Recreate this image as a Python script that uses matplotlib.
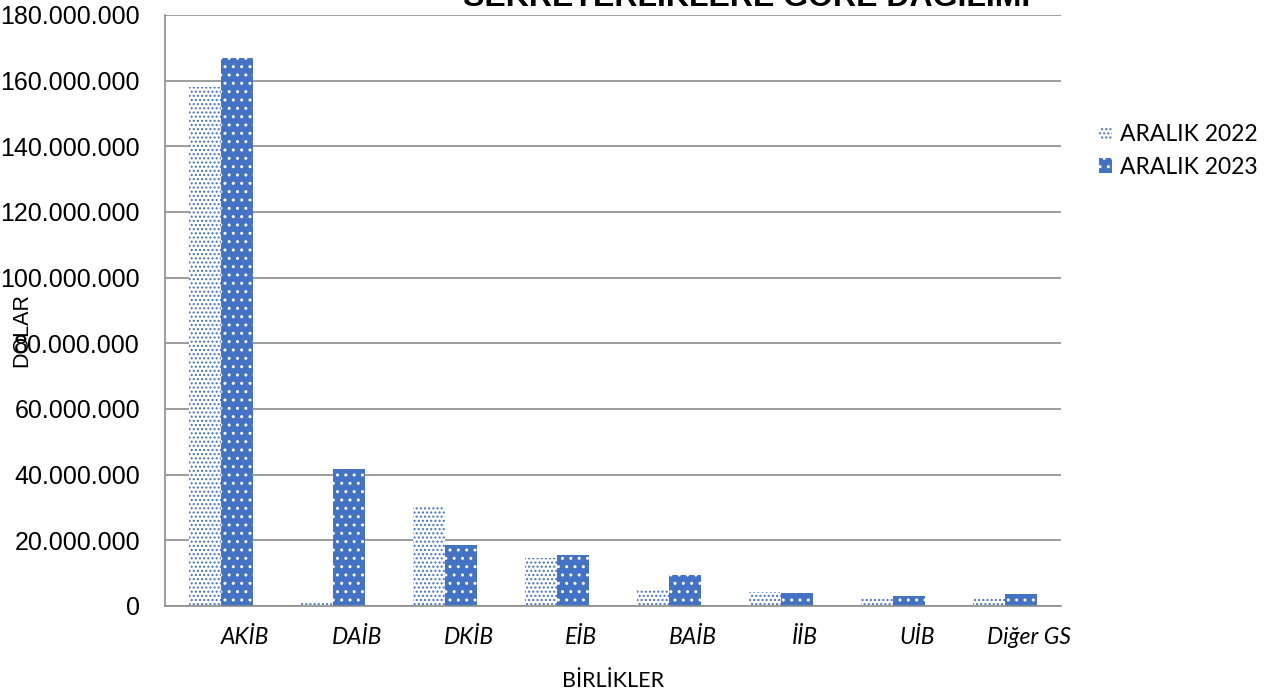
import numpy as np
import matplotlib.pyplot as plt
from matplotlib.ticker import FuncFormatter
import matplotlib.transforms as mtransforms

plt.rcParams['hatch.linewidth'] = 1.0

birlikler = ["AKİB", "DAİB", "DKİB", "EİB", "BAİB", "İİB", "UİB", "Diğer GS"]
aralik_2022 = [158.0e6, 1.5e6, 30.5e6, 14.6e6, 4.9e6, 4.3e6, 2.3e6, 2.3e6]
aralik_2023 = [167.0e6, 41.8e6, 18.6e6, 15.5e6, 9.4e6, 3.8e6, 3.0e6, 3.5e6]
seriler = ["ARALIK 2022", "ARALIK 2023"]

mavi = "#4472C4"

fig = plt.figure(figsize=(12.69, 6.97), dpi=100)
ax = fig.add_axes([0.130, 0.1306, 0.706, 0.848])

x = np.arange(len(birlikler))
w = 0.286
ax.bar(x - w / 2, aralik_2022, w, facecolor="white", edgecolor=mavi,
       hatch="....", linewidth=0, label=seriler[0])
ax.bar(x + w / 2, aralik_2023, w, facecolor=mavi, edgecolor="white",
       hatch="..", linewidth=0, label=seriler[1])

ax.set_xlim(-0.5, len(birlikler) - 0.5)
ax.set_ylim(0, 180e6)
ax.set_yticks(np.arange(0, 180e6 + 1, 20e6))
ax.yaxis.set_major_formatter(FuncFormatter(lambda v, p: f"{int(v):,}".replace(",", ".")))
ax.yaxis.grid(True, color="#8c8c8c", linewidth=1.2)
ax.set_axisbelow(True)
for s in ["top", "right"]:
    ax.spines[s].set_visible(False)
for s in ["left", "bottom"]:
    ax.spines[s].set_color("#8c8c8c")
    ax.spines[s].set_linewidth(1.2)
ax.tick_params(axis="y", length=0, labelsize=18, pad=18)
ax.tick_params(axis="x", length=0, pad=15)
for lbl in ax.get_yticklabels():
    lbl.set_family("Liberation Sans")

ax.set_xticks(x)
ax.set_xticklabels(birlikler, fontsize=16.5, family="Lato", style="italic")
offset = mtransforms.ScaledTranslation(0.24, 0, fig.dpi_scale_trans)
for lbl in ax.get_xticklabels():
    lbl.set_transform(lbl.get_transform() + offset)

fig.text(613 / 1269, 1 - 681 / 697, "BİRLİKLER", fontsize=15.5, family="Lato",
         ha="center", va="center")
fig.text(22 / 1269, 1 - 330 / 697, "DOLAR", fontsize=15.5, family="Liberation Sans",
         rotation=90, ha="center", va="center")
fig.text(747 / 1269, 1 - 6 / 697, "SEKRETERLİKLERE GÖRE DAĞILIMI", fontsize=23,
         family="Liberation Sans", weight="heavy", ha="center", va="baseline")

leg = ax.legend(loc="upper left", bbox_to_anchor=(1.02, 0.85), frameon=False,
                prop={"family": "Lato", "size": 16.5}, handlelength=0.55,
                handleheight=0.6, handletextpad=0.35, labelspacing=0.5)

fig.savefig("out.png", dpi=100)
